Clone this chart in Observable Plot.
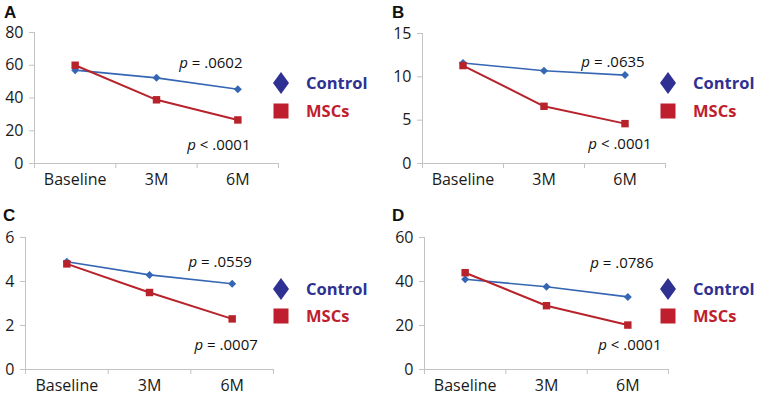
<!DOCTYPE html>
<html>
<head>
<meta charset="utf-8">
<script src="https://cdn.jsdelivr.net/npm/d3@7"></script>
<script src="https://cdn.jsdelivr.net/npm/@observablehq/plot@0.6"></script>
<style>
  body { margin: 0; background: #fff; }
  #wrap { position: relative; width: 759px; height: 400px; font-family: "Open Sans", sans-serif; overflow: hidden; }
  .panel { position: absolute; width: 380px; height: 200px; }
  .panel svg.plot { position: absolute; left: 0; top: 0; }
  .plabel { position: absolute; font-family: "Liberation Sans", Arial, sans-serif; font-weight: bold; font-size: 17px; line-height: 0.75; color: #111; }
  .leg { position: absolute; display: flex; align-items: center; height: 24px; font-weight: bold; font-size: 16.5px; white-space: nowrap; }
  .leg svg { display: block; }
  .leg span { margin-left: 16px; line-height: 1; }
</style>
</head>
<body>
<div id="wrap"></div>
<script>
// ---- data ----
const timepoints = ["Baseline", "3M", "6M"];
const seriesNames = ["Control", "MSCs"];
const panelLabels = ["A", "B", "C", "D"];
const controlA = [57, 52.3, 45.3];
const mscA = [60, 38.9, 26.6];
const controlB = [11.6, 10.7, 10.2];
const mscB = [11.3, 6.6, 4.6];
const controlC = [4.9, 4.3, 3.9];
const mscC = [4.8, 3.5, 2.3];
const controlD = [41, 37.6, 33];
const mscD = [44, 29, 20.2];
const yMax = [80, 15, 6, 60];
const yTicks = [[0, 20, 40, 60, 80], [0, 5, 10, 15], [0, 2, 4, 6], [0, 20, 40, 60]];
const pControl = ["p = .0602", "p = .0635", "p = .0559", "p = .0786"];
const pMsc = ["p < .0001", "p < .0001", "p = .0007", "p < .0001"];

const controls = [controlA, controlB, controlC, controlD];
const mscs = [mscA, mscB, mscC, mscD];

// ---- layout / style ----
const blue = "#3566b3";
const red = "#b8232b";
const legendBlue = "#2e3192";
const legendRed = "#be1e2d";
const axisGray = "#c3c3c3";

const layout = [
  { left: 0,   top: 0,   mL: 34, mR: 102, mT: 32, mB: 37, cdx: -27, cdy: -26, mdx: -19, mdy: 25, legX: 281, legC: 83, legM: 111, labX: 4, labY: 7 },
  { left: 379, top: 0,   mL: 43, mR: 94,  mT: 33, mB: 37, cdx: -12, cdy: -13, mdx: -5,  mdy: 21, legX: 289, legC: 83, legM: 111, labX: 13, labY: 7 },
  { left: 0,   top: 200, mL: 25, mR: 107, mT: 37, mB: 31, cdx: -12, cdy: -22, mdx: -6,  mdy: 26, legX: 281, legC: 89, legM: 116, labX: 3, labY: 10 },
  { left: 379, top: 200, mL: 45, mR: 91,  mT: 37, mB: 31, cdx: -6,  cdy: -34, mdx: 2,   mdy: 20, legX: 289, legC: 89, legM: 116, labX: 13, labY: 10 }
];

const wrap = document.getElementById("wrap");

panelLabels.forEach((lab, k) => {
  const L = layout[k];
  const rows = timepoints.flatMap((t, i) => [
    { series: seriesNames[0], i, v: controls[k][i] },
    { series: seriesNames[1], i, v: mscs[k][i] }
  ]);
  const ctrl = rows.filter(d => d.series === "Control");
  const msc = rows.filter(d => d.series === "MSCs");
  const xPos = d => d.i + 0.5;

  const chart = Plot.plot({
    width: 380,
    height: 200,
    marginLeft: L.mL,
    marginRight: L.mR,
    marginTop: L.mT,
    marginBottom: L.mB,
    style: { fontFamily: "'Open Sans', sans-serif", fontSize: "16px", color: "#1a1a1a", background: "transparent", overflow: "visible" },
    x: { domain: [0, timepoints.length], label: null },
    y: { domain: [0, yMax[k]], label: null },
    marks: [
      Plot.ruleY([0], { stroke: axisGray, strokeWidth: 1 }),
      Plot.ruleX([0], { stroke: axisGray, strokeWidth: 1 }),
      Plot.axisY({ ticks: yTicks[k], tickSize: 5, tickPadding: 6, stroke: axisGray, fill: "#1a1a1a", fontSize: 16, label: null, tickFormat: d => String(d) }),
      Plot.axisX({ ticks: d3.range(timepoints.length + 1), tickSize: 5, label: null, tickFormat: () => "", stroke: axisGray }),
      Plot.axisX({ ticks: timepoints.map((t, i) => i + 0.5), tickSize: 0, tickPadding: 10, label: null, fill: "#1a1a1a", fontSize: 16, tickFormat: d => timepoints[Math.floor(d)] }),
      Plot.line(ctrl, { x: xPos, y: "v", stroke: blue, strokeWidth: 1.6 }),
      Plot.line(msc, { x: xPos, y: "v", stroke: red, strokeWidth: 2 }),
      Plot.dot(ctrl, { x: xPos, y: "v", symbol: "diamond2", r: 3.6, fill: blue, stroke: "none" }),
      Plot.dot(msc, { x: xPos, y: "v", symbol: "square", r: 4.2, fill: red, stroke: "none" }),
      Plot.text([ctrl[ctrl.length - 1]], { x: xPos, y: "v", text: () => pControl[k], dx: L.cdx, dy: L.cdy, fontSize: 15, fill: "#111", textAnchor: "middle" }),
      Plot.text([msc[msc.length - 1]], { x: xPos, y: "v", text: () => pMsc[k], dx: L.mdx, dy: L.mdy, fontSize: 15, fill: "#111", textAnchor: "middle" })
    ]
  });
  chart.classList.add("plot");

  // italicize the "p" in the annotations
  chart.querySelectorAll('g[aria-label="text"] text').forEach(t => {
    const s = t.textContent;
    if (s.startsWith("p ")) {
      t.textContent = "";
      const ns = "http://www.w3.org/2000/svg";
      const ts = document.createElementNS(ns, "tspan");
      ts.setAttribute("font-style", "italic");
      ts.textContent = "p";
      t.appendChild(ts);
      t.appendChild(document.createTextNode(s.slice(1)));
    }
  });

  const panel = document.createElement("div");
  panel.className = "panel";
  panel.style.left = L.left + "px";
  panel.style.top = L.top + "px";
  panel.appendChild(chart);

  const pl = document.createElement("div");
  pl.className = "plabel";
  pl.style.left = L.labX + "px";
  pl.style.top = L.labY + "px";
  pl.textContent = lab;
  panel.appendChild(pl);

  // legend
  const items = [
    { name: seriesNames[0], color: legendBlue, cy: L.legC, shape: '<polygon points="9,1 17,12 9,23 1,12"/>' },
    { name: seriesNames[1], color: legendRed, cy: L.legM, shape: '<rect x="1.5" y="4.5" width="15" height="15"/>' }
  ];
  items.forEach(it => {
    const d = document.createElement("div");
    d.className = "leg";
    d.style.left = (L.legX - 9) + "px";
    d.style.top = (it.cy - 12) + "px";
    d.style.color = it.color;
    d.innerHTML = `<svg width="18" height="24" viewBox="0 0 18 24" fill="${it.color}">${it.shape}</svg><span>${it.name}</span>`;
    panel.appendChild(d);
  });

  wrap.appendChild(panel);
});
</script>
</body>
</html>
